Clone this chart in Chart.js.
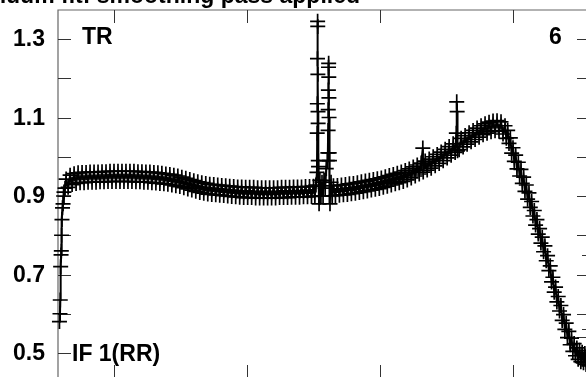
<!DOCTYPE html>
<html lang="en">
<head>
  <meta charset="UTF-8">
  <title>TR flux, IF 1(RR)</title>
  <script src="https://cdn.jsdelivr.net/npm/chart.js"></script>
  <style>
    body {
      margin: 0;
      background: #fff;
      overflow: hidden;
      width: 586px;
      height: 377px;
    }
    #wrap {
      width: 600px;
      height: 390px;
    }
  </style>
</head>
<body>
<div id="wrap">
  <canvas id="fluxChart" width="600" height="390"></canvas>
</div>

<script>
  // wavelength (ticks every 1000) and normalised flux in pieces

  // steep rise at the blue end
  const waveStart = [4590, 4594, 4596, 4599, 4602, 4604, 4606, 4609, 4613, 4617, 4621, 4624, 4632];
  const fluxStart = [0.580, 0.600, 0.635, 0.720, 0.750, 0.760, 0.800, 0.840, 0.870, 0.880, 0.900, 0.910, 0.920];

  // flat stretch up to the emission spikes
  const waveA = [
    4640, 4655, 4670, 4685, 4700, 4715, 4730, 4745, 4760, 4775,
    4790, 4805, 4820, 4835, 4850, 4865, 4880, 4895, 4910, 4925,
    4940, 4955, 4970, 4985, 5000, 5015, 5030, 5045, 5060, 5075,
    5090, 5105, 5120, 5135, 5150, 5165, 5180, 5195, 5210, 5225,
    5240, 5255, 5270, 5285, 5300, 5315, 5330, 5345, 5360, 5375,
    5390, 5405, 5420, 5435, 5450, 5465, 5480, 5495, 5510, 5525,
    5540, 5555, 5570, 5585, 5600, 5615, 5630, 5645, 5660, 5675,
    5690, 5705, 5720, 5735, 5750, 5765, 5780, 5795, 5810, 5825,
    5840, 5855, 5870, 5885, 5900, 5915, 5930, 5945, 5960, 5975,
    5990, 6005, 6020, 6035, 6050, 6065, 6080, 6095, 6110, 6125,
    6140, 6155, 6170, 6185, 6200, 6215, 6230, 6245, 6260, 6275,
    6290, 6305, 6320, 6335, 6350, 6365, 6380, 6395, 6410, 6425,
    6440, 6455, 6470, 6485, 6500
  ];
  const fluxA = [
    0.943, 0.922, 0.953, 0.929, 0.957, 0.932, 0.959, 0.934, 0.960, 0.934,
    0.960, 0.935, 0.961, 0.935, 0.961, 0.935, 0.961, 0.936, 0.962, 0.936,
    0.962, 0.937, 0.963, 0.937, 0.963, 0.937, 0.963, 0.937, 0.963, 0.937,
    0.963, 0.937, 0.963, 0.937, 0.963, 0.936, 0.962, 0.936, 0.962, 0.935,
    0.961, 0.935, 0.961, 0.934, 0.960, 0.933, 0.959, 0.932, 0.958, 0.931,
    0.956, 0.930, 0.955, 0.928, 0.953, 0.926, 0.951, 0.924, 0.948, 0.921,
    0.945, 0.918, 0.942, 0.915, 0.939, 0.912, 0.936, 0.909, 0.934, 0.907,
    0.932, 0.905, 0.930, 0.904, 0.929, 0.903, 0.928, 0.902, 0.927, 0.901,
    0.926, 0.900, 0.925, 0.899, 0.924, 0.898, 0.923, 0.897, 0.923, 0.896,
    0.922, 0.896, 0.922, 0.896, 0.922, 0.895, 0.921, 0.895, 0.921, 0.895,
    0.921, 0.895, 0.921, 0.895, 0.921, 0.895, 0.921, 0.896, 0.922, 0.896,
    0.922, 0.896, 0.922, 0.897, 0.923, 0.897, 0.923, 0.897, 0.923, 0.898,
    0.924, 0.898, 0.924, 0.899, 0.925
  ];

  // the two narrow spikes
  const waveSpike = [
    6510, 6518, 6526, 6528, 6529, 6530, 6531, 6532, 6533, 6534, 6535, 6536,
    6538, 6542, 6548, 6556, 6564, 6572, 6580, 6588, 6596, 6604, 6608, 6610,
    6611, 6612, 6613, 6614, 6615, 6616, 6617, 6618, 6620, 6624, 6632, 6641
  ];
  const fluxSpike = [
    0.900, 0.928, 0.960, 1.060, 1.135, 1.250, 1.345, 1.332, 1.210, 1.115, 1.085, 0.990,
    0.975, 0.880, 0.940, 0.900, 0.935, 0.900, 0.940, 0.920, 0.970, 0.990, 1.010, 1.067,
    1.120, 1.170, 1.228, 1.238, 1.203, 1.150, 1.100, 1.010, 0.990, 0.880, 0.935, 0.900
  ];

  // rise to the red bump
  const waveB = [
    6650, 6665, 6680, 6695, 6710, 6725, 6740, 6755, 6770, 6785,
    6800, 6815, 6830, 6845, 6860, 6875, 6890, 6905, 6920, 6935,
    6950, 6965, 6980, 6995, 7010, 7025, 7040, 7055, 7070, 7085,
    7100, 7115, 7130, 7145, 7160, 7175, 7190, 7205, 7220, 7235,
    7250, 7265, 7280, 7295, 7310, 7322, 7325, 7340, 7355, 7370, 7385,
    7400, 7415, 7430, 7445, 7460, 7475, 7490, 7505, 7520, 7535,
    7550, 7565, 7574, 7577, 7580, 7583, 7595, 7610, 7625, 7640, 7655,
    7670, 7685, 7700, 7715, 7730, 7745, 7760, 7775, 7790, 7805,
    7820, 7835, 7850, 7865, 7880, 7895, 7910, 7925
  ];
  const fluxB = [
    0.926, 0.901, 0.927, 0.902, 0.928, 0.903, 0.929, 0.904, 0.931, 0.906,
    0.932, 0.907, 0.934, 0.909, 0.936, 0.911, 0.938, 0.913, 0.940, 0.915,
    0.942, 0.917, 0.944, 0.919, 0.946, 0.922, 0.949, 0.925, 0.952, 0.928,
    0.955, 0.931, 0.958, 0.934, 0.961, 0.937, 0.965, 0.941, 0.969, 0.946,
    0.974, 0.951, 0.979, 0.956, 0.984, 1.022, 0.961, 0.989, 0.966, 0.994, 0.971,
    1.000, 0.977, 1.006, 0.983, 1.012, 0.990, 1.019, 0.997, 1.026, 1.004,
    1.033, 1.011, 1.060, 1.140, 1.115, 1.015, 1.018, 1.047, 1.025, 1.054, 1.032,
    1.061, 1.038, 1.067, 1.044, 1.073, 1.050, 1.079, 1.056, 1.084, 1.060,
    1.088, 1.064, 1.091, 1.066, 1.092, 1.065, 1.089, 1.058
  ];

  // fall-off at the red end
  const waveC = [
    7940, 7950, 7960, 7970, 7980, 7990, 8000, 8010, 8020, 8030,
    8040, 8050, 8060, 8070, 8080, 8090, 8100, 8110, 8120, 8130,
    8140, 8150, 8160, 8170, 8180, 8190, 8200, 8210, 8220, 8230,
    8240, 8250, 8260, 8270, 8280, 8290, 8300, 8310, 8320, 8330,
    8340, 8350, 8360, 8370, 8380, 8390, 8400, 8410, 8420, 8430,
    8440, 8450, 8460, 8470, 8480, 8490, 8500, 8510, 8520, 8530,
    8540, 8550, 8560, 8570
  ];
  const fluxC = [
    1.079, 1.047, 1.067, 1.034, 1.048, 1.009, 1.023, 0.988, 1.004, 0.969,
    0.986, 0.951, 0.968, 0.932, 0.948, 0.912, 0.928, 0.892, 0.908, 0.871,
    0.886, 0.849, 0.863, 0.826, 0.840, 0.803, 0.817, 0.780, 0.795, 0.758,
    0.773, 0.735, 0.748, 0.710, 0.722, 0.681, 0.693, 0.655, 0.668, 0.630,
    0.644, 0.607, 0.621, 0.583, 0.598, 0.560, 0.576, 0.539, 0.555, 0.521,
    0.538, 0.504, 0.524, 0.493, 0.513, 0.484, 0.507, 0.478, 0.502, 0.475,
    0.499, 0.471, 0.495, 0.467
  ];

  const yTicks = [0.5, 0.6, 0.7, 0.8, 0.9, 1.0, 1.1, 1.2, 1.3];
  const yLabels = ['0.5', '0.7', '0.9', '1.1', '1.3'];
  const yLabelValues = [0.5, 0.7, 0.9, 1.1, 1.3];
  const xTicks = [5000, 6000, 7000, 8000];
  const rightExtraTicks = [0.75, 0.56];
  const rightLongExtra = [0.54];
  const titleText = 'Continuum fit: smoothing pass applied';

  const FONT = 'bold 23px "Liberation Sans", Arial, sans-serif';

  const wave = waveStart.concat(waveA, waveSpike, waveB, waveC);
  const flux = fluxStart.concat(fluxA, fluxSpike, fluxB, fluxC);

  const framePlugin = {
    id: 'frame',
    beforeDatasetsDraw(chart) {
      const ctx = chart.ctx;
      const a = chart.chartArea;
      const xs = chart.scales.x;
      const ys = chart.scales.y;
      ctx.save();

      // frame: left axis + top edge
      ctx.strokeStyle = '#666';
      ctx.lineWidth = 1.2;
      ctx.beginPath();
      ctx.moveTo(a.left, a.bottom);
      ctx.lineTo(a.left, a.top);
      ctx.lineTo(a.right, a.top);
      ctx.stroke();

      // inward ticks
      ctx.strokeStyle = '#333';
      ctx.lineWidth = 1;
      ctx.beginPath();
      yTicks.forEach(v => {
        const y = Math.round(ys.getPixelForValue(v)) + 0.5;
        ctx.moveTo(a.left, y); ctx.lineTo(a.left + 13, y);
        ctx.moveTo(a.right, y); ctx.lineTo(a.right - 11, y);
      });
      rightExtraTicks.forEach(v => {
        const y = Math.round(ys.getPixelForValue(v)) + 0.5;
        ctx.moveTo(a.right, y); ctx.lineTo(a.right - 6, y);
      });
      rightLongExtra.forEach(v => {
        const y = Math.round(ys.getPixelForValue(v)) + 0.5;
        ctx.moveTo(a.right, y); ctx.lineTo(a.right - 11, y);
      });
      xTicks.forEach(v => {
        const x = Math.round(xs.getPixelForValue(v)) + 0.5;
        ctx.moveTo(x, a.top); ctx.lineTo(x, a.top + 13);
        ctx.moveTo(x, a.bottom); ctx.lineTo(x, a.bottom - 13);
      });
      ctx.stroke();

      // labels
      ctx.fillStyle = '#000';
      ctx.font = FONT;
      ctx.textBaseline = 'middle';
      ctx.textAlign = 'right';
      yLabelValues.forEach((v, i) => {
        ctx.fillText(yLabels[i], a.left - 13, ys.getPixelForValue(v) + 1);
      });
      ctx.textAlign = 'left';
      ctx.fillText('TR', 82, 38);
      ctx.fillText('IF 1(RR)', 72, 355);
      ctx.fillText('6', 549, 38);

      // title, mostly cut off by the top edge
      ctx.textAlign = 'right';
      ctx.textBaseline = 'alphabetic';
      ctx.fillText(titleText, 360, 3);
      ctx.restore();
    }
  };

  new Chart(document.getElementById('fluxChart'), {
    type: 'line',
    data: {
      datasets: [{
        data: wave.map((w, i) => ({ x: w, y: flux[i] })),
        borderColor: '#000',
        borderWidth: 2,
        pointStyle: 'cross',
        pointRadius: 7.5,
        pointBorderWidth: 1.7,
        pointBorderColor: '#000',
        pointBackgroundColor: '#000',
        tension: 0,
        clip: false
      }]
    },
    options: {
      responsive: false,
      devicePixelRatio: 1,
      animation: false,
      layout: { padding: { left: 58, top: 10, right: 12, bottom: 12 } },
      plugins: { legend: { display: false }, tooltip: { enabled: false } },
      scales: {
        x: { type: 'linear', min: 4579, max: 8564, display: false },
        y: { type: 'linear', min: 0.4363, max: 1.3739, display: false }
      }
    },
    plugins: [framePlugin]
  });
</script>
</body>
</html>
